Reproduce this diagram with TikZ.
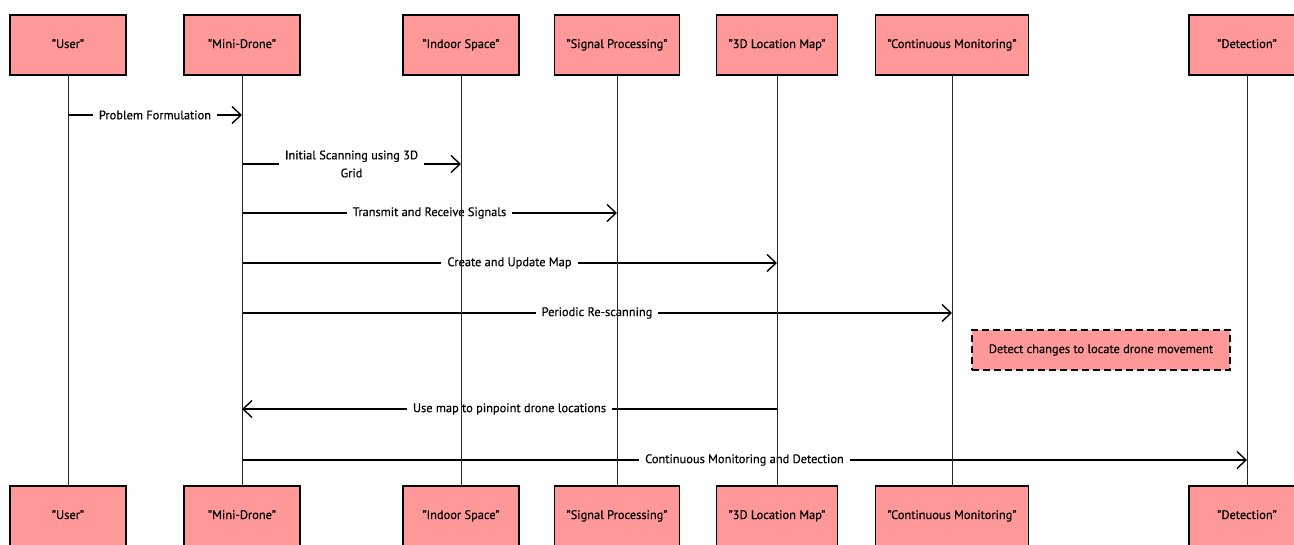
\documentclass[tikz,border=0pt]{standalone}
\usepackage{fontspec}
\setmainfont{PT Sans}[FakeBold=0.4]
\usetikzlibrary{arrows.meta}
\definecolor{boxpink}{HTML}{FF9999}
\begin{document}
\begin{tikzpicture}[x=1pt,y=-1pt,
    actor/.style={draw,line width=1.5pt,fill=boxpink,minimum height=60pt,minimum width=116pt,inner xsep=12pt,text height=9pt,text depth=3pt,font=\fontsize{12.4}{14}\selectfont},
    msg/.style={line width=1.4pt,-{Straight Barb[length=9pt,width=17pt,line width=1.4pt]}},
    lbl/.style={fill=white,font=\fontsize{12.4}{18}\selectfont,inner xsep=6pt,inner ysep=1pt,align=center},
    note/.style={draw,dash pattern=on 7pt off 4pt,line width=1.4pt,fill=boxpink,minimum width=258pt,minimum height=40pt,font=\fontsize{12.4}{14}\selectfont},
    life/.style={line width=0.8pt,black!85}]
    \useasboundingbox (0,0) rectangle (1294,544);
    \clip (0,0) rectangle (1294,544);
    \node[actor] (userT) at (68,45) {"User"};
    \node[actor] (droneT) at (242,45) {"Mini-Drone"};
    \node[actor] (spaceT) at (461,45) {"Indoor Space"};
    \node[actor] (signalT) at (617,45) {"Signal Processing"};
    \node[actor] (mapT) at (777,45) {"3D Location Map"};
    \node[actor] (monitorT) at (952,45) {"Continuous Monitoring"};
    \node[actor] (detectT) at (1247,45) {"Detection"};
    \node[actor] (userB) at (68,516) {"User"};
    \node[actor] (droneB) at (242,516) {"Mini-Drone"};
    \node[actor] (spaceB) at (461,516) {"Indoor Space"};
    \node[actor] (signalB) at (617,516) {"Signal Processing"};
    \node[actor] (mapB) at (777,516) {"3D Location Map"};
    \node[actor] (monitorB) at (952,516) {"Continuous Monitoring"};
    \node[actor] (detectB) at (1247,516) {"Detection"};
    \draw[msg] (userT |- 0,115) -- node[lbl] {Problem Formulation} (droneT |- 0,115);
    \draw[msg] (droneT |- 0,164) -- node[lbl] {Initial Scanning using 3D\\Grid} (spaceT |- 0,164);
    \draw[msg] (droneT |- 0,213) -- node[lbl] {Transmit and Receive Signals} (signalT |- 0,213);
    \draw[msg] (droneT |- 0,263) -- node[lbl] {Create and Update Map} (mapT |- 0,263);
    \draw[msg] (droneT |- 0,313) -- node[lbl] {Periodic Re-scanning} (monitorT |- 0,313);
    \node[note] (changes) at (1101,350) {Detect changes to locate drone movement};
    \draw[msg] (mapT |- 0,409) -- node[lbl] {Use map to pinpoint drone locations} (droneT |- 0,409);
    \draw[msg] (droneT |- 0,460) -- node[lbl] {Continuous Monitoring and Detection} (detectT |- 0,460);
    \draw[life] (userT) -- (userB);
    \draw[life] (droneT) -- (droneB);
    \draw[life] (spaceT) -- (spaceB);
    \draw[life] (signalT) -- (signalB);
    \draw[life] (mapT) -- (mapB);
    \draw[life] (monitorT) -- (monitorB);
    \draw[life] (detectT) -- (detectB);
\end{tikzpicture}
\end{document}
